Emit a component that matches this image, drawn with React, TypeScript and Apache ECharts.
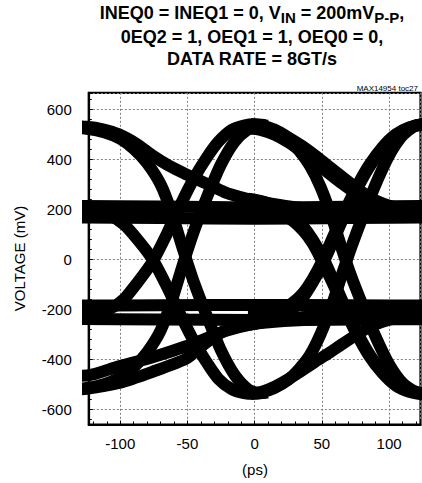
import React, { useEffect, useRef } from "react";
import * as echarts from "echarts";

// ---- axes ----
const X_MIN = -123.4;
const X_MAX = 123.4;
const Y_MIN = -661;
const Y_MAX = 666;
const xTickLabels = [-100, -50, 0, 50, 100];
const yTickLabels = [-600, -400, -200, 0, 200, 400, 600];

// ---- texts ----
const titleLine2 = "0EQ2 = 1, OEQ1 = 1, OEQ0 = 0,";
const titleLine3 = "DATA RATE = 8GT/s";
const noteText = "MAX14954 toc27";
const xName = "(ps)";
const yName = "VOLTAGE (mV)";

// ---- eye-diagram traces [ps, mV] ----
// first interval (left bit -> middle bit)
const leftHighDecay = [[-140, 533], [-125, 530], [-113, 520], [-101, 500], [-88, 462], [-76, 415], [-64, 375], [-51, 340], [-41, 315], [-30, 288], [-22, 268], [-10, 248], [0, 236], [15, 220], [30, 208], [50, 198], [80, 192], [140, 190]];
const leftHighFall = [[-140, 530], [-125, 522], [-112, 508], [-100, 482], [-90, 442], [-80, 385], [-70, 300], [-62, 190], [-53, 35], [-45, -95], [-35, -235], [-25, -365], [-15, -462], [-5, -520], [3, -535], [10, -533]];
const leftMidFall = [[-140, 190], [-120, 190], [-108, 176], [-97, 138], [-87, 78], [-76, 0], [-65, -112], [-55, -225], [-45, -330], [-35, -418], [-27, -478], [-17, -520], [-8, -535], [0, -538], [8, -533]];
const leftMidRise = [[-140, -212], [-120, -212], [-108, -198], [-97, -158], [-87, -92], [-76, -10], [-65, 105], [-55, 220], [-45, 325], [-35, 412], [-27, 470], [-17, 518], [-8, 535], [0, 540], [8, 536]];
const leftLowRise = [[-140, -520], [-125, -515], [-112, -500], [-100, -472], [-90, -432], [-80, -372], [-70, -285], [-62, -172], [-53, -15], [-45, 115], [-35, 255], [-25, 380], [-15, 470], [-5, 520], [3, 536], [10, 534]];
const leftLowDecayA = [[-140, -466], [-125, -465], [-101, -428], [-76, -392], [-51, -348], [-35, -314], [-20, -284], [0, -257], [20, -240], [45, -228], [80, -220], [140, -216]];
const leftLowDecayB = [[-140, -522], [-125, -518], [-101, -495], [-76, -450], [-51, -398], [-40, -350], [-30, -310], [-20, -280], [-5, -262], [15, -250], [45, -242], [90, -238], [140, -237]];
// second interval (middle bit -> right bit)
const midHighDecayA = [[-3, 540], [6, 535], [15, 518], [25, 488], [35, 454], [45, 415], [55, 372], [65, 330], [75, 288], [85, 250], [95, 224], [105, 208], [120, 198], [140, 195]];
const midHighDecayB = [[-5, 524], [5, 517], [15, 498], [25, 468], [35, 430], [45, 388], [55, 345], [65, 303], [75, 265], [85, 234], [95, 213], [105, 200], [120, 192], [140, 190]];
const midHighFall = [[-3, 538], [6, 531], [15, 514], [25, 480], [33, 435], [41, 375], [49, 290], [57, 175], [65, 40], [72, -70], [80, -180], [90, -310], [100, -420], [110, -495], [120, -530], [140, -545]];
const midMidFallA = [[-5, 195], [10, 192], [20, 180], [28, 155], [36, 115], [43, 65], [50, -5], [58, -95], [66, -190], [75, -290], [85, -385], [95, -455], [105, -505], [115, -530], [125, -540], [140, -545]];
const midMidFallB = [[-5, 242], [8, 228], [18, 208], [27, 178], [35, 138], [43, 80], [51, 5], [59, -90], [67, -188], [76, -290], [86, -385], [96, -455], [106, -503], [116, -528], [126, -538], [140, -545]];
const midMidRiseA = [[-5, -212], [10, -210], [20, -198], [28, -175], [36, -135], [43, -80], [50, -10], [58, 85], [66, 180], [75, 280], [85, 375], [95, 448], [105, 500], [115, 528], [125, 540], [140, 545]];
const midMidRiseB = [[-5, -262], [8, -250], [18, -232], [27, -205], [35, -160], [43, -95], [51, -15], [59, 80], [67, 178], [76, 280], [86, 375], [96, 448], [106, 500], [116, 528], [126, 540], [140, 545]];
const midLowRise = [[-3, -538], [6, -531], [15, -514], [25, -482], [33, -440], [41, -385], [49, -300], [57, -190], [65, -60], [72, 50], [80, 165], [90, 300], [100, 415], [110, 495], [120, 535], [140, 550]];
const midLowDecay = [[-3, -538], [6, -529], [15, -510], [25, -480], [35, -446], [45, -410], [55, -376], [65, -340], [75, -305], [85, -272], [95, -250], [105, -236], [120, -226], [140, -220]];
// steady de-emphasised levels
const highFlatUpper = [[-140, 214], [-70, 211], [0, 207], [70, 210], [140, 214]];
const highFlatLower = [[-140, 168], [-70, 165], [0, 162], [70, 165], [140, 168]];
const lowFlatUpper = [[-140, -185], [-70, -184], [0, -183], [70, -184], [140, -185]];
const lowFlatLower = [[-140, -239], [-70, -241], [0, -243], [70, -241], [140, -239]];

const traceList = [
  leftHighDecay, leftHighFall, leftMidFall, leftMidRise, leftLowRise, leftLowDecayA, leftLowDecayB,
  midHighDecayA, midHighDecayB, midHighFall, midMidFallA, midMidFallB, midMidRiseA, midMidRiseB,
  midLowRise, midLowDecay, highFlatUpper, highFlatLower, lowFlatUpper, lowFlatLower,
];

const FONT = '"Liberation Sans", Arial, Helvetica, sans-serif';

export default function App() {
  const ref = useRef<HTMLDivElement>(null);
  useEffect(() => {
    const chart = echarts.init(ref.current!, null, { renderer: "svg" });
    const isTick = (v: number, list: number[]) =>
      list.some((t) => Math.abs(t - v) < 1e-6);
    const richTitle = {
      b: { fontSize: 18, fontWeight: "bold", fontFamily: FONT, lineHeight: 24, fill: "#000", color: "#000" },
      s: { fontSize: 15, fontWeight: "bold", fontFamily: FONT, lineHeight: 12, verticalAlign: "bottom", fill: "#000", color: "#000" },
    };
    const titleText = (y: number, text: string) => ({
      type: "text",
      x: 252,
      y,
      silent: true,
      style: {
        text,
        rich: richTitle,
        align: "center",
        textAlign: "center",
        verticalAlign: "top",
        textVerticalAlign: "top",
        fill: "#000",
      },
    });
    const gridLine = { show: true, lineStyle: { color: "#808080", width: 1, type: [2, 2] } };
    chart.setOption({
      animation: false,
      backgroundColor: "#fff",
      grid: {
        left: 88.8,
        top: 92.8,
        width: 331.7,
        height: 331.7,
        show: true,
        borderColor: "#000",
        borderWidth: 2.2,
        backgroundColor: "transparent",
      },
      xAxis: {
        type: "value",
        min: X_MIN,
        max: X_MAX,
        splitNumber: 5,
        axisLine: { show: true, onZero: false, lineStyle: { color: "#000", width: 2.2 } },
        axisTick: { show: true, inside: true, length: 4, lineStyle: { color: "#000" } },
        minorTick: { show: true, splitNumber: 5, length: 3, lineStyle: { color: "#000" } },
        splitLine: gridLine,
        axisLabel: {
          show: true,
          margin: 11,
          fontSize: 15,
          fontFamily: FONT,
          color: "#000",
          showMinLabel: false,
          showMaxLabel: false,
          formatter: (v: number) => (isTick(v, xTickLabels) ? String(Math.round(v)) : ""),
        },
      },
      yAxis: {
        type: "value",
        min: Y_MIN,
        max: Y_MAX,
        splitNumber: 7,
        axisLine: { show: true, onZero: false, lineStyle: { color: "#000", width: 2.2 } },
        axisTick: { show: true, inside: true, length: 4, lineStyle: { color: "#000" } },
        minorTick: { show: true, splitNumber: 5, length: 3, lineStyle: { color: "#000" } },
        splitLine: gridLine,
        axisLabel: {
          show: true,
          margin: 17,
          fontSize: 15,
          fontFamily: FONT,
          color: "#000",
          showMinLabel: false,
          showMaxLabel: false,
          formatter: (v: number) => (isTick(v, yTickLabels) ? String(Math.round(v)) : ""),
        },
      },
      graphic: [
        titleText(1, "{b|INEQ0 = INEQ1 = 0, V}{s|IN}{b| = 200mV}{s|P-P}{b|,}"),
        titleText(25, "{b|" + titleLine2 + "}"),
        titleText(47.4, "{b|" + titleLine3 + "}"),
        {
          type: "text",
          x: 418,
          y: 88.9,
          silent: true,
          style: {
            text: noteText,
            font: "8px " + FONT,
            fill: "#000",
            align: "right",
            textAlign: "right",
            verticalAlign: "middle",
            textVerticalAlign: "middle",
          },
        },
        {
          type: "text",
          x: 255,
          y: 469,
          silent: true,
          style: {
            text: xName,
            font: "15px " + FONT,
            fill: "#000",
            align: "center",
            textAlign: "center",
            verticalAlign: "middle",
            textVerticalAlign: "middle",
          },
        },
        {
          type: "text",
          x: 19.5,
          y: 258.5,
          rotation: Math.PI / 2,
          silent: true,
          style: {
            text: yName,
            font: "15px " + FONT,
            fill: "#000",
            align: "center",
            textAlign: "center",
            verticalAlign: "middle",
            textVerticalAlign: "middle",
          },
        },
      ],
      series: traceList.map((d) => ({
        type: "line",
        data: d,
        smooth: 0.25,
        showSymbol: false,
        symbol: "none",
        silent: true,
        clip: true,
        lineStyle: { color: "#000", width: 12, join: "round" },
      })),
    });
    return () => chart.dispose();
  }, []);
  return (
    <div
      ref={ref}
      style={{ position: "absolute", left: 0, top: 0, width: 422, height: 483, background: "#fff" }}
    />
  );
}
